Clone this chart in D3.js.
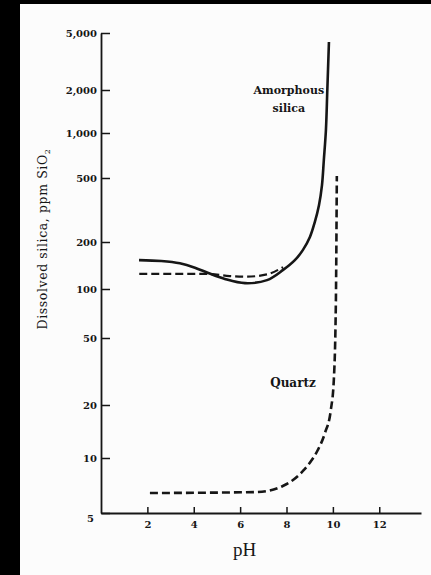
<!DOCTYPE html>
<html>
<head>
<meta charset="utf-8">
<script src="https://cdn.jsdelivr.net/npm/d3@7"></script>
<style>
  html, body { margin: 0; padding: 0; background: #000; }
  svg { display: block; }
</style>
</head>
<body>
<div id="chart"></div>
<script>
var width = 431
var height = 575

// axis ticks
var yTicks = [5, 10, 20, 50, 100, 200, 500, 1000, 2000, 5000]
var yTickLabels = ['5', '10', '20', '50', '100', '200', '500', '1,000', '2,000', '5,000']
var xTicks = [2, 4, 6, 8, 10, 12]

// amorphous silica, solid curve
var amorphousPH = [1.64, 2.6, 3.4, 4.05, 4.6, 5.34, 6.21, 7.16, 7.84, 8.36, 8.71, 9.01, 9.22, 9.4, 9.53, 9.61, 9.7, 9.76, 9.83]
var amorphousPPM = [153, 151, 146, 137, 127, 116, 109, 114, 132, 153, 178, 215, 266, 339, 452, 660, 1050, 2000, 4325]

// amorphous silica, dashed curve
var amorphousDashPH = [1.65, 4.55, 5.55, 6.3, 7.15, 7.85]
var amorphousDashPPM = [125, 125, 121, 120, 124, 138]

// quartz, dashed
var quartzPH = [2.11, 6.64, 7.28, 7.84, 8.28, 8.71, 9.09, 9.35, 9.66, 9.91, 10.04, 10.13, 10.17]
var quartzPPM = [6.43, 6.51, 6.64, 7.03, 7.58, 8.49, 9.75, 11.1, 13.9, 18.7, 28.1, 85.6, 515]

// curve labels
var labelText = ['Amorphous', 'silica', 'Quartz']
var labelPH = [8.1, 8.1, 8.28]
var labelPPM = [1875, 1403, 25.6]

// layout (the printed log axis is not quite uniform, so pin each tick)
var axisLeft = 101, axisRight = 421
var yTickPos = [513, 458, 405, 338, 289, 242, 178, 133, 90, 33]

var ink = '#161616'
var serif = '"DejaVu Serif", serif'

var svg = d3.select('#chart').append('svg')
  .attr('width', width).attr('height', height)

svg.append('rect')
  .attr('x', 20).attr('y', 4)
  .attr('width', width - 20).attr('height', height - 4)
  .attr('fill', '#fcfcfc')

var x = d3.scaleLinear().domain([0, 13.8]).range([axisLeft, axisRight])
var y = d3.scaleLog().domain(yTicks).range(yTickPos)

// y axis
var yAxis = svg.append('g')
  .attr('transform', `translate(${axisLeft},0)`)
  .call(d3.axisLeft(y)
    .tickValues(yTicks)
    .tickFormat((d, i) => yTickLabels[i])
    .tickSize(-9)
    .tickSizeOuter(0)
    .tickPadding(4))

yAxis.selectAll('text')
  .attr('font-family', serif)
  .attr('font-weight', 'bold')
  .attr('font-size', '10px')
  .attr('fill', ink)
  .filter(d => d === 5)
  .attr('dy', '0.85em')
  .attr('x', -7)

// x axis
var xAxis = svg.append('g')
  .attr('transform', `translate(0,${y(5)})`)
  .call(d3.axisBottom(x)
    .tickValues(xTicks)
    .tickSize(-6)
    .tickSizeOuter(0)
    .tickPadding(8))

xAxis.selectAll('text')
  .attr('font-family', serif)
  .attr('font-weight', 'bold')
  .attr('font-size', '10px')
  .attr('fill', ink)

svg.selectAll('.domain').attr('stroke', ink).attr('stroke-width', 1.8)
svg.selectAll('.tick line').attr('stroke', ink).attr('stroke-width', 1.5)

// curves
var line = d3.line()
  .x(d => x(d[0]))
  .y(d => y(d[1]))
  .curve(d3.curveMonotoneX)

var smooth = d3.line()
  .x(d => x(d[0]))
  .y(d => y(d[1]))
  .curve(d3.curveCatmullRom.alpha(0.5))

var zip = (a, b) => a.map((v, i) => [v, b[i]])

svg.append('path')
  .attr('d', line(zip(amorphousDashPH, amorphousDashPPM)))
  .attr('fill', 'none')
  .attr('stroke', ink)
  .attr('stroke-width', 2.2)
  .attr('stroke-dasharray', '8,4')

svg.append('path')
  .attr('d', line(zip(quartzPH, quartzPPM)))
  .attr('fill', 'none')
  .attr('stroke', ink)
  .attr('stroke-width', 2.6)
  .attr('stroke-dasharray', '8,4')

svg.append('path')
  .attr('d', smooth(zip(amorphousPH, amorphousPPM)))
  .attr('fill', 'none')
  .attr('stroke', ink)
  .attr('stroke-width', 2.6)

// labels on the curves
svg.selectAll('.curve-label')
  .data(labelText)
  .enter()
  .append('text')
  .attr('class', 'curve-label')
  .attr('x', (d, i) => x(labelPH[i]))
  .attr('y', (d, i) => y(labelPPM[i]))
  .attr('text-anchor', 'middle')
  .attr('font-family', serif)
  .attr('font-weight', 'bold')
  .attr('font-size', (d, i) => i === 2 ? '12px' : '11px')
  .attr('fill', ink)
  .text(d => d)

// axis titles
svg.append('text')
  .attr('x', (axisLeft + 390) / 2 - 1)
  .attr('y', 556)
  .attr('text-anchor', 'middle')
  .attr('font-family', '"Liberation Serif", serif')
  .attr('font-size', '19px')
  .attr('fill', ink)
  .text('pH')

var ylab = svg.append('text')
  .attr('transform', 'translate(47,239) rotate(-90)')
  .attr('text-anchor', 'middle')
  .attr('font-family', serif)
  .attr('font-size', '12.5px')
  .attr('letter-spacing', '0.6px')
  .attr('fill', ink)

ylab.append('tspan').text('Dissolved silica, ppm SiO')
ylab.append('tspan').attr('font-size', '8px').attr('dy', 3).text('2')
</script>
</body>
</html>
